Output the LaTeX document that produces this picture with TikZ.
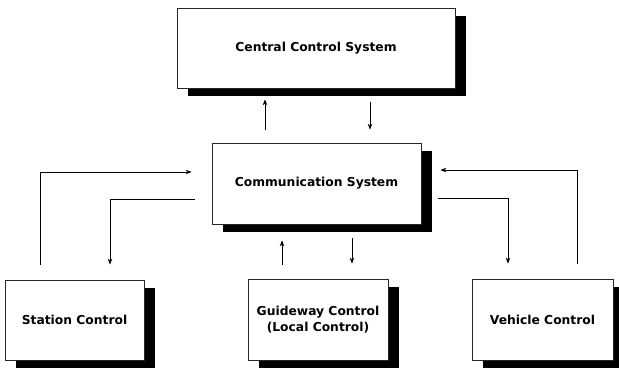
\documentclass[tikz,border=0pt]{standalone}
\usepackage{fontspec}
\setmainfont{DejaVu Sans}
\usetikzlibrary{arrows.meta,shadows}
\begin{document}
\begin{tikzpicture}[
  x=1pt, y=-1pt,
  panel/.style={draw=black!85, line width=0.7pt, fill=white, align=center,
    font=\fontsize{12.3}{16}\selectfont\bfseries, inner sep=0pt,
    drop shadow={shadow xshift=11pt, shadow yshift=-8pt, fill=black, opacity=1}},
  link/.style={line width=0.8pt, -{Stealth[length=6pt,width=4.5pt]}}
]
\useasboundingbox (0,0) rectangle (619,369);

% boxes
\node[panel, minimum width=278pt, minimum height=80pt] (central)  at (316,48)     {Central Control System};
\node[panel, minimum width=209pt, minimum height=81pt] (comm)     at (316.5,183.5) {Communication System};
\node[panel, minimum width=139pt, minimum height=80pt] (station)  at (74.5,320)   {Station Control};
\node[panel, minimum width=140pt, minimum height=81pt] (guideway) at (318,319.5)  {Guideway Control\\(Local Control)};
\node[panel, minimum width=141pt, minimum height=81pt] (vehicle)  at (542.5,319.5) {Vehicle Control};

% central <-> communication
\draw[link, shorten <=13pt, shorten >=11pt] ([xshift=-51.5pt]comm.north) -- ([xshift=-51pt]central.south);
\draw[link, shorten <=14pt, shorten >=13pt] ([xshift=54pt]central.south) -- ([xshift=53.5pt]comm.north);

% station <-> communication
\draw[link, shorten <=15pt, shorten >=20pt] ([xshift=-34.5pt]station.north) |- ([yshift=11.5pt]comm.west);
\draw[link, shorten <=17pt, shorten >=15pt] ([yshift=-15.5pt]comm.west) -| ([xshift=35.5pt]station.north);

% guideway <-> communication
\draw[link, shorten <=14pt, shorten >=16pt] ([xshift=-36pt]guideway.north) -- ([xshift=-34.5pt]comm.south);
\draw[link, shorten <=14pt, shorten >=15pt] ([xshift=35.5pt]comm.south) -- ([xshift=34pt]guideway.north);

% vehicle <-> communication
\draw[link, shorten <=17pt, shorten >=15pt] ([yshift=-14.5pt]comm.east) -| ([xshift=-34.5pt]vehicle.north);
\draw[link, shorten <=15pt, shorten >=19pt] ([xshift=34.5pt]vehicle.north) |- ([yshift=13.5pt]comm.east);
\end{tikzpicture}
\end{document}
